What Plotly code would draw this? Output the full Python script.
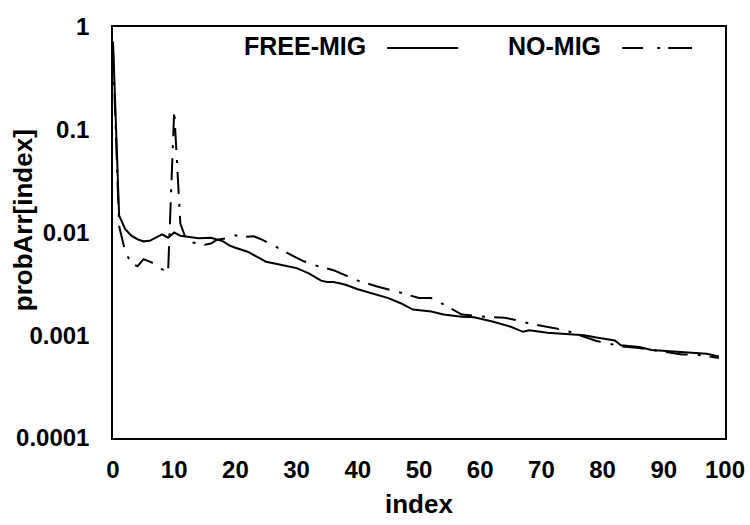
import plotly.graph_objects as go

# FREE-MIG series (index, probability)
free_idx = [0, 1, 2, 3, 4, 5, 6, 7, 8, 9, 10, 11, 13, 14, 16, 17, 18, 19, 20, 22, 23, 25, 27, 29, 30, 32,
            34, 35, 36, 37, 38, 40, 43, 45, 47, 49, 52, 54, 57, 59, 62, 65, 67, 68, 71, 74, 77, 79, 82,
            83, 86, 88, 91, 93, 95, 97, 99]
free_val = [0.72, 0.0146, 0.0108, 0.0093, 0.0086, 0.0082, 0.0083, 0.0089, 0.0096, 0.0089, 0.0100, 0.0093,
            0.0090, 0.0088, 0.0089, 0.0086, 0.0082, 0.0075, 0.0071, 0.0065, 0.0060, 0.0052, 0.0049, 0.0046,
            0.0045, 0.0040, 0.0034, 0.0033, 0.0033, 0.0032, 0.0031, 0.0028, 0.0025, 0.0023, 0.00205,
            0.00178, 0.0017, 0.00159, 0.00151, 0.0015, 0.00136, 0.00121, 0.00108, 0.00112, 0.00106,
            0.00103, 0.00100, 0.00095, 0.00089, 0.00080, 0.00077, 0.00072, 0.00070, 0.00068, 0.00067,
            0.00066, 0.00062]

# NO-MIG series (index, probability)
no_idx = [0, 1, 2, 3, 4, 5, 6, 7, 8, 9, 10, 11, 12, 13, 15, 16, 17, 19, 20, 21, 23, 24, 26, 27, 29, 31,
          33, 36, 38, 40, 43, 45, 47, 50, 52, 54, 57, 59, 61, 64, 66, 68, 72, 74, 75, 79, 81, 83, 86, 88,
          90, 93, 95, 97, 99]
no_val = [0.6, 0.0115, 0.0065, 0.0050, 0.0047, 0.0055, 0.0052, 0.0049, 0.0044, 0.0041, 0.155, 0.0122,
          0.0084, 0.0080, 0.0076, 0.0078, 0.0085, 0.0089, 0.0094, 0.0090, 0.0092, 0.0087, 0.0076, 0.0071,
          0.0061, 0.0053, 0.0048, 0.0043, 0.0038, 0.0034, 0.0030, 0.0028, 0.0026, 0.0023, 0.0023, 0.0020,
          0.00159, 0.00155, 0.00151, 0.00148, 0.0014, 0.0013, 0.00118, 0.00112, 0.00106, 0.00088, 0.00083,
          0.00078, 0.00075, 0.00072, 0.00069, 0.00065, 0.00065, 0.00063, 0.0006]

x_ticks = [0, 10, 20, 30, 40, 50, 60, 70, 80, 90, 100]
y_ticks = [0.0001, 0.001, 0.01, 0.1, 1]
y_ticktext = ["0.0001", "0.001", "0.01", "0.1", "1"]
series_names = ["FREE-MIG", "NO-MIG"]
x_title = "index"
y_title = "probArr[index]"

FONT = "Liberation Sans"
tick_size = 24
leg_size = 25
title_size = 26
dashdot = "22px,10px,3px,9px"

fig = go.Figure()
fig.add_trace(go.Scatter(x=free_idx, y=free_val, mode="lines", name=series_names[0],
                         line=dict(color="black", width=2), showlegend=False))
fig.add_trace(go.Scatter(x=no_idx, y=no_val, mode="lines", name=series_names[1],
                         line=dict(color="black", width=2, dash=dashdot), showlegend=False))

axis_common = dict(showgrid=False, zeroline=False, showline=True, linecolor="black", linewidth=1.5,
                   mirror=True, ticks="outside", tickcolor="rgba(0,0,0,0)",
                   tickfont=dict(family=FONT, size=tick_size, color="black", weight="bold"))

fig.update_xaxes(range=[0, 100], tickmode="array", tickvals=x_ticks, ticklen=9, **axis_common)
fig.update_yaxes(type="log", range=[-4, 0], tickmode="array", tickvals=y_ticks, ticktext=y_ticktext,
                 ticklen=17, **axis_common)

# axis titles placed as gnuplot does
title_font = dict(family=FONT, size=title_size, color="black", weight="bold")
fig.add_annotation(x=0.5, y=-0.1606, xref="paper", yref="paper", text=x_title, showarrow=False,
                   xanchor="center", yanchor="middle", font=title_font)
fig.add_annotation(x=-0.147, y=0.53, xref="paper", yref="paper", text=y_title, showarrow=False,
                   textangle=-90, xanchor="center", yanchor="middle", font=title_font)

# manual gnuplot-style legend: text on the left, line sample on the right
legend_items = [(series_names[0], 0.4167, 0.448, 0.564, "solid"),
                (series_names[1], 0.8007, 0.832, 0.946, "21px,14px,3px,8px,40px")]
for name, tx, x0, x1, dsh in legend_items:
    fig.add_annotation(x=tx, y=0.954, xref="paper", yref="paper", text=name, showarrow=False,
                       xanchor="right", yanchor="middle",
                       font=dict(family=FONT, size=leg_size, color="black", weight="bold"))
    fig.add_shape(type="line", xref="paper", yref="paper", x0=x0, x1=x1, y0=0.949, y1=0.949,
                  line=dict(color="black", width=2, dash=dsh))

fig.update_layout(width=750, height=525, plot_bgcolor="white", paper_bgcolor="white",
                  margin=dict(l=113, r=25, t=27, b=87, autoexpand=False),
                  font=dict(family=FONT, color="black"))

fig.write_html("out.html")
